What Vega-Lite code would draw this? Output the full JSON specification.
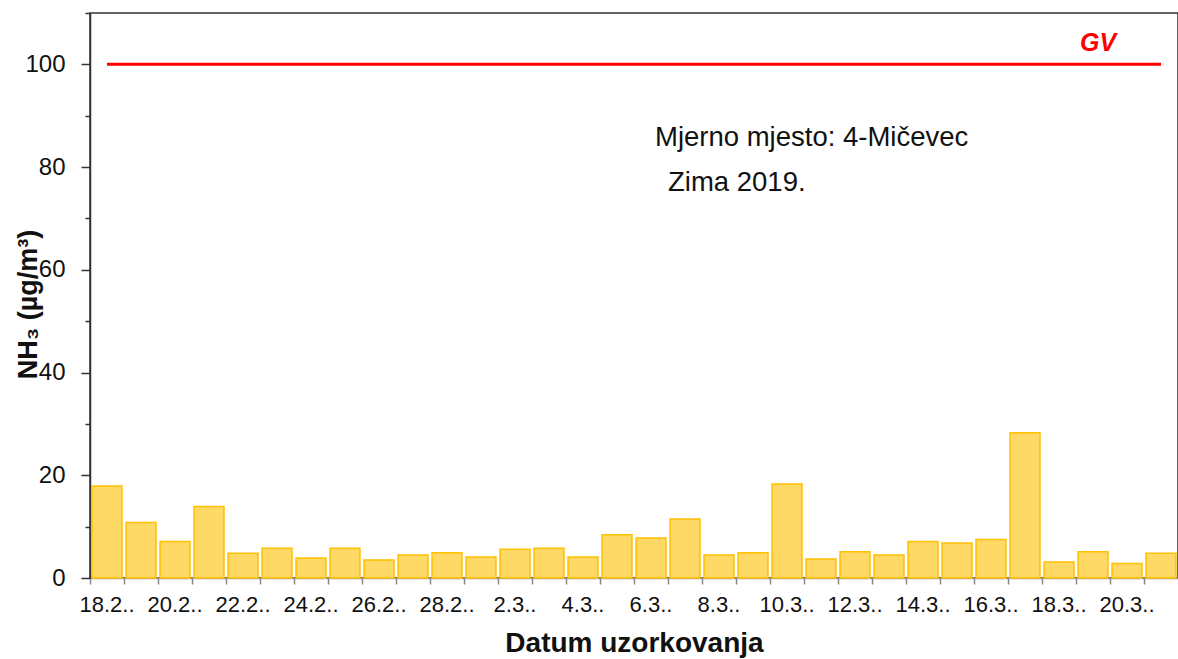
{
  "$schema": "https://vega.github.io/schema/vega-lite/v6.json",
  "width": 1088,
  "height": 565,
  "autosize": {"type": "none"},
  "padding": {"left": 90, "top": 13, "right": 0, "bottom": 81},
  "background": "white",
  "config": {
    "font": "Liberation Sans",
    "view": {"stroke": "#333", "strokeWidth": 1.5},
    "axis": {"grid": false}
  },
  "datasets": {
    "nh3": [
      {"date": "18.2.", "nh3": 17.9},
      {"date": "19.2.", "nh3": 10.8},
      {"date": "20.2.", "nh3": 7.1},
      {"date": "21.2.", "nh3": 13.9},
      {"date": "22.2.", "nh3": 4.8},
      {"date": "23.2.", "nh3": 5.8},
      {"date": "24.2.", "nh3": 3.9},
      {"date": "25.2.", "nh3": 5.8},
      {"date": "26.2.", "nh3": 3.5},
      {"date": "27.2.", "nh3": 4.5},
      {"date": "28.2.", "nh3": 4.9},
      {"date": "1.3.", "nh3": 4.1},
      {"date": "2.3.", "nh3": 5.6},
      {"date": "3.3.", "nh3": 5.8},
      {"date": "4.3.", "nh3": 4.1},
      {"date": "5.3.", "nh3": 8.4},
      {"date": "6.3.", "nh3": 7.8},
      {"date": "7.3.", "nh3": 11.5},
      {"date": "8.3.", "nh3": 4.5},
      {"date": "9.3.", "nh3": 4.9},
      {"date": "10.3.", "nh3": 18.3},
      {"date": "11.3.", "nh3": 3.7},
      {"date": "12.3.", "nh3": 5.1},
      {"date": "13.3.", "nh3": 4.5},
      {"date": "14.3.", "nh3": 7.1},
      {"date": "15.3.", "nh3": 6.8},
      {"date": "16.3.", "nh3": 7.5},
      {"date": "17.3.", "nh3": 28.3},
      {"date": "18.3.", "nh3": 3.1},
      {"date": "19.3.", "nh3": 5.1},
      {"date": "20.3.", "nh3": 2.8},
      {"date": "21.3.", "nh3": 4.8}
    ],
    "gv": [{"start": "18.2.", "end": "21.3.", "gv": 100, "label": "GV", "labelAt": "19.3.", "labelY": 104.2}],
    "note1": [{"text": "Mjerno mjesto: 4-Mičevec", "at": "6.3.", "v": 85.6}],
    "note2": [{"text": "Zima 2019.", "at": "6.3.", "v": 77}]
  },
  "layer": [
    {
      "data": {"name": "nh3"},
      "mark": {"type": "bar", "width": {"band": 0.88}, "fill": "#FFD966", "stroke": "#FFC000", "strokeWidth": 1.5},
      "encoding": {
        "x": {
          "field": "date",
          "type": "nominal",
          "sort": null,
          "scale": {"paddingInner": 0, "paddingOuter": 0},
          "axis": {
            "title": "Datum uzorkovanja",
            "bandPosition": 0,
            "labelAngle": 0,
            "labelOverlap": false,
            "labelExpr": "indexof(['18.2.','20.2.','22.2.','24.2.','26.2.','28.2.','2.3.','4.3.','6.3.','8.3.','10.3.','12.3.','14.3.','16.3.','18.3.','20.3.'], datum.value) >= 0 ? datum.value + '.' : ''",
            "labelFontSize": 22,
            "labelColor": "#111",
            "labelPadding": 10,
            "tickSize": 6,
            "tickColor": "#888",
            "tickWidth": 1.5,
            "domainColor": "#999",
            "domainWidth": 1.5,
            "titleFontSize": 28,
            "titleFontWeight": "bold",
            "titleColor": "#111",
            "titlePadding": 14
          }
        },
        "y": {
          "field": "nh3",
          "type": "quantitative",
          "scale": {"domain": [0, 110], "nice": false},
          "axis": {
            "title": "NH₃ (µg/m³)",
            "values": [0, 10, 20, 30, 40, 50, 60, 70, 80, 90, 100, 110],
            "labelExpr": "datum.value % 20 === 0 ? datum.label : ''",
            "tickSize": {"condition": {"test": "datum.value % 20 === 0", "value": 9}, "value": 5},
            "labelFontSize": 24,
            "labelPadding": 16,
            "labelColor": "#111",
            "tickColor": "#333",
            "tickWidth": 1.5,
            "domainColor": "#333",
            "domainWidth": 1.5,
            "titleFontSize": 27,
            "titleFontWeight": "bold",
            "titleColor": "#111",
            "titleX": -62,
            "titleY": 291,
            "titleAngle": -90,
            "titleAlign": "center",
            "titleBaseline": "middle"
          }
        }
      }
    },
    {
      "data": {"name": "gv"},
      "mark": {"type": "rule", "color": "#FF0000", "strokeWidth": 3},
      "encoding": {
        "x": {"field": "start", "type": "nominal", "sort": null},
        "x2": {"field": "end"},
        "y": {"field": "gv", "type": "quantitative"}
      }
    },
    {
      "data": {"name": "gv"},
      "mark": {"type": "text", "color": "#FF0000", "fontSize": 25, "fontWeight": "bold", "fontStyle": "italic", "align": "center", "baseline": "middle", "dx": 5},
      "encoding": {
        "x": {"field": "labelAt", "type": "nominal", "sort": null},
        "y": {"field": "labelY", "type": "quantitative"},
        "text": {"field": "label"}
      }
    },
    {
      "data": {"name": "note1"},
      "mark": {"type": "text", "color": "#111", "fontSize": 27.5, "align": "left", "baseline": "middle", "dx": 4},
      "encoding": {
        "x": {"field": "at", "type": "nominal", "sort": null},
        "y": {"field": "v", "type": "quantitative"},
        "text": {"field": "text"}
      }
    },
    {
      "data": {"name": "note2"},
      "mark": {"type": "text", "color": "#111", "fontSize": 27.5, "align": "left", "baseline": "middle", "dx": 17},
      "encoding": {
        "x": {"field": "at", "type": "nominal", "sort": null},
        "y": {"field": "v", "type": "quantitative"},
        "text": {"field": "text"}
      }
    }
  ]
}
